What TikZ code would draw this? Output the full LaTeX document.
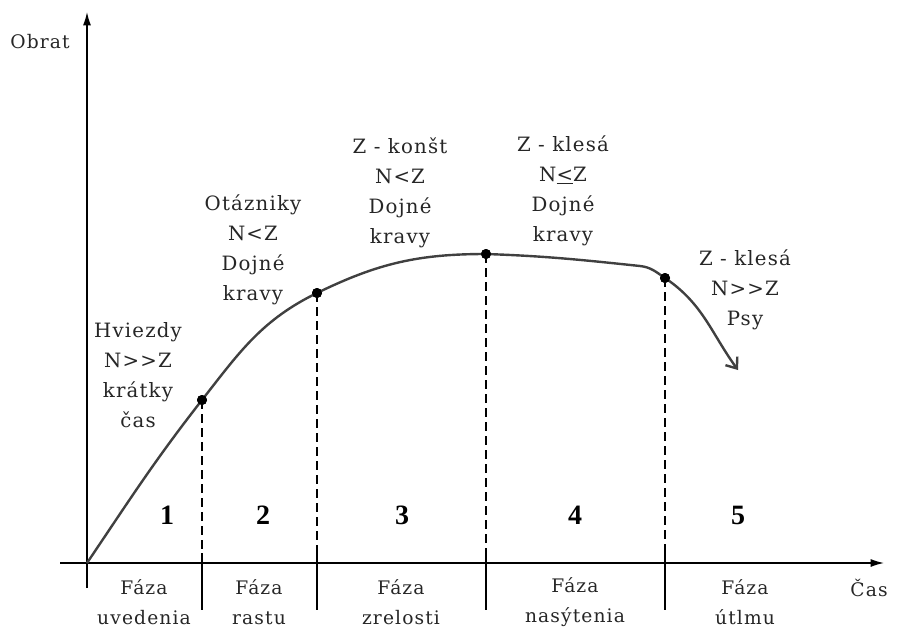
\documentclass[tikz,border=0pt]{standalone}
\usepackage{fontspec}
\setmainfont{DejaVu Serif}[LetterSpace=6]
\newfontfamily\numfont{Liberation Serif}
\usetikzlibrary{arrows.meta}
\begin{document}
\begin{tikzpicture}[x=0.75pt,y=-0.75pt,
  lbl/.style={align=center,font=\fontsize{14.8}{22.5}\selectfont,text=black!85,inner sep=0pt},
  blbl/.style={align=center,font=\fontsize{14}{22}\selectfont,text=black!85,inner sep=0pt},
  num/.style={font=\numfont\bfseries\fontsize{21}{24}\selectfont,inner sep=0pt},
  axis/.style={line width=1.1pt,black},
  curve/.style={line width=1.8pt,black!75},
  guide/.style={line width=0.9pt,dash pattern=on 6.5pt off 4pt},
  divider/.style={line width=1pt},
  pt/.style={circle,fill=black,inner sep=0pt,minimum size=7.5pt}]
\useasboundingbox (0,0) rectangle (911,632);
% coordinates
\coordinate (o) at (87,563);
\coordinate (ytop) at (87,12);
\coordinate (ybot) at (87,588);
\coordinate (xl) at (60,563);
\coordinate (xr) at (884,563);
\node[pt] (p1) at (202,400) {};
\node[pt] (p2) at (317,293) {};
\node[pt] (p3) at (486,254) {};
\node[pt] (p4) at (665,278) {};
\coordinate (q) at (640,266);
\coordinate (tip) at (738,370);
\foreach \n/\x in {1/202,2/317,3/486,4/665}{
  \coordinate (a\n) at (\x,563);
  \coordinate (t\n) at (\x,553);
  \coordinate (b\n) at (\x,610);
}
% axes
\draw[axis,-{Latex[length=10pt,width=6pt]}] (ybot) -- (ytop);
\draw[axis,-{Latex[length=10pt,width=6pt]}] (xl) -- (xr);
% dividers
\foreach \n in {1,2,3,4}{
  \draw[guide] (p\n.center) -- (a\n);
  \draw[divider] (t\n) -- (b\n);
}
% curve
\draw[curve,-{Straight Barb[length=7pt,width=11pt]}]
  (o) to[out=56,in=232] (p1.center) to[out=52,in=206] (p2.center)
  to[out=26,in=180] (p3.center) to[out=-2,in=174] (q)
  to[out=-6,in=146] (p4.center) to[out=-34,in=126] (tip);
\foreach \n in {1,2,3,4}{\node[pt] at (p\n) {};}
% axis labels
\node[blbl] (obrat) at (40,42) {Obrat};
\node[blbl] (cas) at (869,588) {Čas};
% phase numbers
\node[num] (n1) at (167,515) {1};
\node[num] (n2) at (263,515) {2};
\node[num] (n3) at (402,515) {3};
\node[num] (n4) at (575,515) {4};
\node[num] (n5) at (738,515) {5};
% bottom labels
\node[blbl] (f1) at (144,602) {Fáza\\uvedenia};
\node[blbl] (f2) at (259,602) {Fáza\\rastu};
\node[blbl] (f3) at (401,602) {Fáza\\zrelosti};
\node[blbl] (f4) at (575,602) {Fáza\\nasýtenia};
\node[blbl] (f5) at (745,602) {Fáza\\útlmu};
% upper labels
\node[lbl] (l1) at (138,375) {Hviezdy\\N>{}>Z\\krátky\\čas};
\node[lbl] (l2) at (253,250) {Otázniky\\N<Z\\Dojné\\kravy};
\node[lbl] (l3) at (400,193) {Z - konšt\\N<Z\\Dojné\\kravy};
\node[lbl] (l4) at (563,191) {Z - klesá\\N\underline{<}Z\\Dojné\\kravy};
\node[lbl] (l5) at (745,290) {Z - klesá\\N>{}>Z\\Psy};
\end{tikzpicture}
\end{document}
